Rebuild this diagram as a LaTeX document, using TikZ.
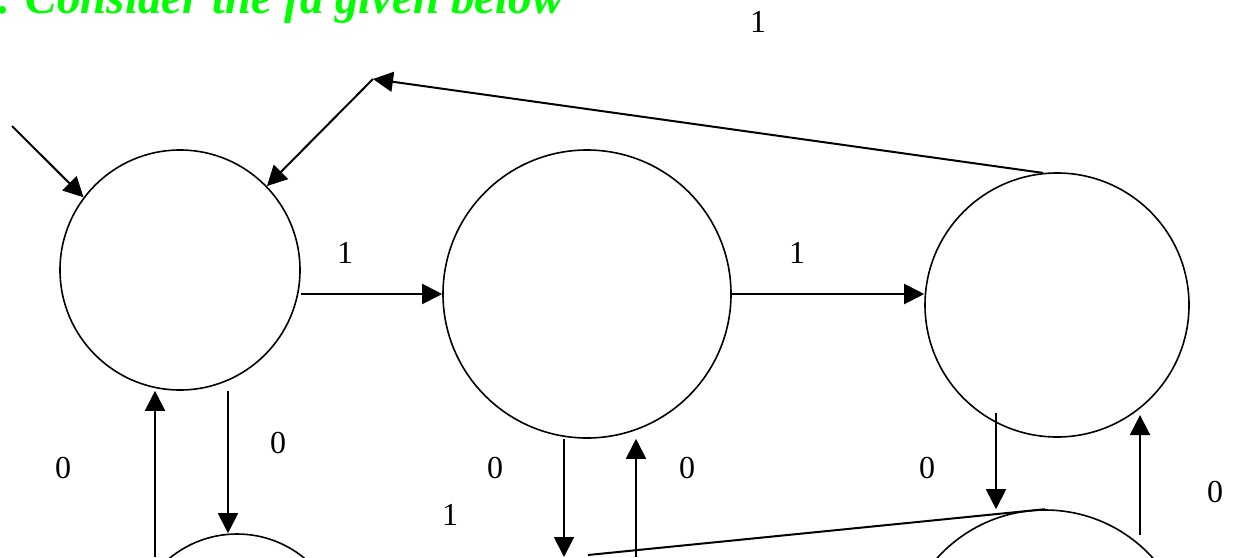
\documentclass[tikz,border=0pt]{standalone}
\usepackage{fontspec}
\setmainfont{Liberation Serif}
\usetikzlibrary{arrows.meta,calc}
\definecolor{titlegreen}{RGB}{0,255,0}
\tikzset{
  state/.style={circle,draw,line width=0.8pt,inner sep=0pt},
  arr/.style={line width=1pt,-{Triangle[length=10pt,width=10pt]}},
  plain/.style={line width=1pt},
  lbl/.style={font=\fontsize{16}{18}\selectfont,inner sep=0pt},
}
\begin{document}
\begin{tikzpicture}[x=0.5pt,y=-0.5pt]
\useasboundingbox (0,0) rectangle (1234,557);
% title
\node[anchor=base west,inner sep=0pt,text=titlegreen,font=\fontsize{23.5}{26}\selectfont\bfseries\itshape] (title) at (-2,13) {. Consider the fa given below};
% states
\node[state,minimum size=120pt] (A) at (180,270) {};
\node[state,minimum size=144pt] (B) at (587,294) {};
\node[state,minimum size=132pt] (C) at (1057,305) {};
\node[state,minimum size=106pt] (D) at (237,640) {};
\node[state,minimum size=145pt] (E) at (1045,655) {};
% helper coordinates
\coordinate (s) at (12,126);
\coordinate (p) at (373,79);
\coordinate (bot) at (0,557);
\coordinate (xa) at (228,0);
\coordinate (xb) at (155,0);
\coordinate (xc) at (564,0);
\coordinate (xd) at (636,0);
\coordinate (xe) at (996,413);
\coordinate (xf) at (1140,535);
\coordinate (xg) at (1140,415);
\coordinate (l1) at (588,555);
% connectors
\draw[arr] (s) -- (A.143);
\draw[arr] (C.96) -- (p);
\draw[arr] (p) -- (A.44);
\draw[arr] (A.east |- B.west) -- (B.west);
\draw[arr] (B.east) -- (B.east -| C.west);
\draw[arr] (A.south -| xa) -- (D.north -| xa);
\draw[arr] (xb |- bot) -- (A.south -| xb);
\draw[arr] (B.south -| xc) -- (xc |- bot);
\draw[arr] (xd |- bot) -- (B.south -| xd);
\draw[plain] (l1) -- (E.north);
\draw[arr] (xe) -- (xe |- E.north);
\draw[arr] (xf) -- (xg);
% labels
\node[lbl] (t1) at (758,22) {1};
\node[lbl] (t2) at (345,253) {1};
\node[lbl] (t3) at (797,253) {1};
\node[lbl] (t4) at (278,443) {0};
\node[lbl] (t5) at (63,468) {0};
\node[lbl] (t6) at (495,468) {0};
\node[lbl] (t7) at (687,468) {0};
\node[lbl] (t8) at (450,515) {1};
\node[lbl] (t9) at (927,468) {0};
\node[lbl] (t10) at (1215,492) {0};
\end{tikzpicture}
\end{document}
